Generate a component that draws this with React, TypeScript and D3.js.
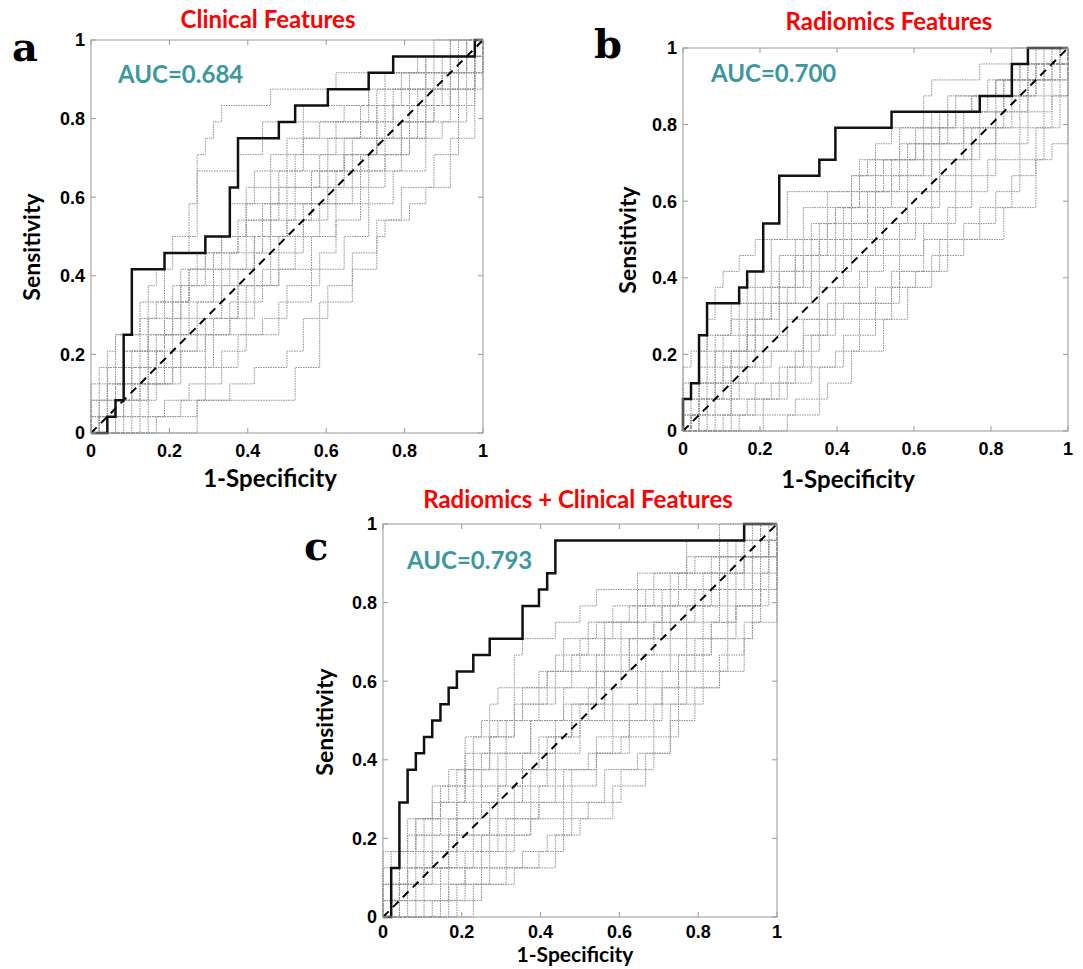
import React, { useEffect, useRef } from "react";
import * as d3 from "d3";

// counts: 48 negatives, 24 positives in the test set
const N_NEG = 48;
const N_POS = 24;
const TICKS = [0, 0.2, 0.4, 0.6, 0.8, 1];
const TICK_LABELS = ["0", "0.2", "0.4", "0.6", "0.8", "1"];

// main ROC curves (false positive count, true positive count), step after
const clinicalFP = [0, 2, 3, 4, 5, 9, 14, 17, 18, 23, 25, 29, 34, 37, 47, 48];
const clinicalTP = [0, 1, 2, 6, 10, 11, 12, 15, 18, 19, 20, 21, 22, 23, 24, 24];
const radiomicsFP = [0, 0, 1, 2, 3, 7, 8, 10, 12, 17, 19, 26, 37, 41, 43, 48];
const radiomicsTP = [0, 2, 3, 6, 8, 9, 10, 13, 16, 17, 19, 20, 21, 23, 24, 24];
const combinedFP = [0, 1, 2, 3, 4, 5, 6, 7, 8, 9, 11, 13, 17, 19, 20, 21, 44, 48];
const combinedTP = [0, 3, 7, 9, 10, 11, 12, 13, 14, 15, 16, 17, 19, 20, 21, 23, 24, 24];

// permutation curves (grey dotted), [fp, tp]
const clinicalPerm = [
  [[0,0],[0,3],[2,5],[3,6],[7,9],[8,10],[10,12],[13,17],[14,18],[15,19],[16,20],[22,21],[30,22],[42,24],[48,24]],
  [[0,0],[0,2],[1,4],[3,6],[6,8],[9,11],[12,14],[13,16],[18,17],[21,19],[26,20],[34,22],[40,23],[46,24],[48,24]],
  [[0,0],[1,1],[2,3],[4,5],[7,7],[10,9],[14,12],[17,14],[20,16],[24,18],[28,19],[35,21],[41,23],[45,24],[48,24]],
  [[0,0],[0,1],[3,3],[5,4],[8,6],[11,8],[15,10],[19,13],[22,15],[25,17],[30,19],[34,21],[39,22],[44,24],[48,24]],
  [[0,0],[2,1],[4,2],[6,4],[9,6],[13,8],[16,10],[20,12],[24,14],[27,16],[31,18],[36,20],[41,22],[47,23],[48,24]],
  [[0,0],[1,2],[5,3],[8,5],[10,7],[12,9],[17,11],[21,13],[23,15],[28,17],[32,18],[37,21],[43,22],[46,24],[48,24]],
  [[0,0],[3,1],[6,2],[8,3],[11,5],[14,7],[18,9],[22,11],[26,13],[29,15],[33,17],[38,19],[42,21],[45,23],[48,24]],
  [[0,0],[4,1],[7,3],[10,4],[14,6],[17,8],[21,10],[25,12],[28,14],[32,16],[36,18],[40,20],[44,22],[47,24],[48,24]],
  [[0,0],[6,1],[9,2],[12,3],[16,5],[19,6],[23,8],[27,10],[31,12],[34,14],[37,16],[41,19],[44,21],[47,23],[48,24]],
  [[0,0],[8,1],[13,2],[17,3],[20,4],[24,5],[26,7],[29,9],[32,11],[35,13],[38,15],[42,17],[45,20],[47,22],[48,24]],
  [[0,0],[13,2],[25,4],[28,8],[32,10],[35,12],[36,13],[39,14],[41,15],[44,18],[47,24],[48,24]],
  [[0,0],[1,1],[3,2],[5,3],[9,4],[15,6],[19,9],[23,12],[26,14],[30,16],[34,17],[39,20],[43,21],[46,23],[48,24]],
  [[0,0],[5,2],[7,4],[11,6],[15,7],[18,10],[20,12],[24,13],[27,15],[31,17],[35,19],[41,21],[44,23],[48,24]],
  [[0,0],[2,2],[3,4],[6,5],[9,7],[11,9],[13,11],[16,12],[19,14],[23,16],[26,18],[33,20],[38,22],[43,23],[48,24]],
  [[0,0],[0,1],[1,2],[2,4],[4,5],[6,7],[8,8],[11,10],[14,11],[18,13],[21,14],[24,16],[29,18],[33,19],[37,20],[40,21],[43,22],[45,23],[48,24]],
  [[0,0],[2,1],[3,3],[5,5],[7,6],[10,8],[12,10],[15,11],[18,12],[22,14],[25,15],[28,16],[31,17],[35,18],[38,19],[42,20],[45,22],[48,24]],
  [[0,0],[3,2],[4,3],[7,5],[9,6],[12,7],[16,9],[20,11],[22,13],[25,14],[29,16],[32,17],[35,20],[39,21],[42,22],[46,24],[48,24]],
  [[0,0],[7,1],[11,2],[14,4],[18,6],[21,7],[24,9],[28,11],[30,13],[33,15],[36,17],[39,18],[43,19],[46,21],[48,24]],
  [[0,0],[1,1],[4,2],[6,3],[10,5],[13,6],[17,7],[20,9],[23,10],[27,12],[30,14],[34,16],[38,18],[41,20],[44,21],[47,22],[48,24]],
  [[0,0],[0,2],[2,3],[4,4],[7,6],[9,8],[12,10],[16,12],[19,15],[22,17],[26,19],[31,20],[36,22],[41,23],[44,24],[48,24]],
];

const radiomicsPerm = [
  [[0,0],[0,4],[1,5],[3,7],[4,9],[5,10],[7,11],[9,12],[13,15],[21,16],[24,18],[26,19],[30,21],[31,22],[37,23],[41,24],[48,24]],
  [[0,0],[0,2],[2,4],[4,6],[6,8],[9,10],[11,12],[15,14],[18,15],[22,17],[27,19],[33,21],[38,22],[44,24],[48,24]],
  [[0,0],[1,1],[2,3],[5,5],[8,7],[11,9],[14,11],[18,13],[21,15],[25,17],[29,19],[34,21],[39,22],[43,23],[46,24],[48,24]],
  [[0,0],[0,1],[3,2],[6,4],[9,6],[12,8],[16,10],[19,12],[23,14],[26,16],[30,18],[35,20],[40,22],[45,23],[47,24],[48,24]],
  [[0,0],[2,1],[4,2],[7,3],[10,5],[13,7],[17,9],[20,11],[24,13],[28,15],[31,17],[36,19],[41,21],[44,22],[47,24],[48,24]],
  [[0,0],[1,2],[3,3],[5,4],[8,6],[10,8],[13,9],[16,11],[20,13],[23,15],[27,17],[32,19],[37,21],[42,23],[48,24]],
  [[0,0],[3,1],[6,2],[9,3],[12,4],[15,6],[18,8],[22,10],[25,12],[29,14],[32,16],[36,18],[39,20],[43,22],[46,23],[48,24]],
  [[0,0],[5,1],[8,2],[11,3],[14,5],[17,7],[20,8],[24,9],[27,11],[30,13],[34,15],[38,17],[42,19],[45,21],[47,23],[48,24]],
  [[0,0],[13,1],[17,4],[20,6],[24,8],[27,10],[32,12],[40,14],[44,17],[46,18],[48,24]],
  [[0,0],[7,1],[10,2],[12,3],[16,4],[19,5],[22,7],[26,9],[29,10],[33,12],[37,14],[41,16],[44,19],[46,21],[48,24]],
  [[0,0],[1,1],[2,2],[4,4],[6,5],[9,7],[12,9],[15,11],[17,13],[20,14],[24,16],[28,18],[31,20],[36,21],[40,22],[45,23],[48,24]],
  [[0,0],[0,3],[2,5],[3,6],[6,7],[8,9],[11,10],[14,12],[18,14],[21,16],[23,17],[27,18],[32,20],[38,21],[43,23],[48,24]],
  [[0,0],[4,1],[6,3],[8,4],[11,5],[15,7],[19,9],[23,11],[27,13],[31,15],[34,17],[37,19],[40,21],[44,23],[48,24]],
  [[0,0],[0,2],[1,3],[3,5],[5,6],[7,8],[10,9],[12,11],[16,13],[19,14],[22,16],[25,17],[29,18],[33,20],[36,21],[39,22],[42,23],[45,24],[48,24]],
  [[0,0],[2,2],[4,3],[6,5],[8,7],[11,8],[14,10],[17,12],[21,13],[24,15],[28,16],[31,18],[35,19],[39,20],[43,22],[46,23],[48,24]],
  [[0,0],[6,1],[9,2],[13,4],[16,6],[19,7],[22,8],[26,10],[30,12],[33,14],[36,16],[39,18],[43,20],[46,22],[48,24]],
  [[0,0],[1,1],[3,2],[5,3],[7,5],[10,6],[13,8],[17,10],[21,12],[25,14],[28,15],[32,17],[35,18],[39,19],[42,21],[45,22],[48,24]],
  [[0,0],[10,1],[14,2],[18,3],[21,5],[25,7],[28,9],[31,11],[35,13],[39,15],[42,17],[45,19],[47,21],[48,24]],
  [[0,0],[0,1],[2,3],[4,5],[7,6],[9,8],[12,10],[15,12],[19,14],[22,15],[26,17],[30,19],[34,20],[39,22],[44,23],[48,24]],
];

const combinedPerm = [
  [[0,0],[0,4],[3,5],[5,6],[6,7],[8,8],[9,9],[10,11],[12,12],[13,13],[14,14],[16,16],[17,17],[21,18],[24,19],[26,20],[31,21],[37,23],[41,24],[48,24]],
  [[0,0],[0,2],[2,4],[4,6],[7,8],[10,10],[13,12],[17,14],[20,15],[24,17],[28,19],[33,21],[38,22],[43,23],[46,24],[48,24]],
  [[0,0],[1,1],[3,3],[6,4],[9,6],[12,8],[15,10],[18,12],[22,14],[26,16],[29,18],[34,20],[39,21],[44,23],[48,24]],
  [[0,0],[0,1],[2,2],[5,3],[8,5],[11,7],[14,9],[19,11],[23,13],[27,15],[31,17],[35,19],[40,21],[45,22],[47,24],[48,24]],
  [[0,0],[2,1],[4,2],[7,3],[10,4],[13,6],[16,8],[20,10],[24,12],[28,14],[32,16],[37,18],[41,20],[44,22],[47,23],[48,24]],
  [[0,0],[1,2],[3,3],[5,4],[8,6],[12,7],[14,8],[17,10],[21,12],[25,14],[29,16],[33,18],[38,20],[42,22],[46,24],[48,24]],
  [[0,0],[4,1],[7,2],[10,3],[12,5],[15,6],[19,8],[22,9],[26,11],[30,13],[34,15],[38,17],[42,19],[45,21],[47,23],[48,24]],
  [[0,0],[6,1],[9,2],[13,3],[17,4],[20,5],[23,7],[27,9],[31,10],[35,12],[38,14],[41,16],[44,18],[46,20],[48,24]],
  [[0,0],[11,2],[16,3],[21,5],[24,6],[28,8],[32,10],[35,13],[37,14],[41,15],[44,17],[45,18],[48,24]],
  [[0,0],[9,1],[12,2],[15,3],[19,4],[22,6],[25,7],[29,9],[33,11],[36,13],[39,15],[42,17],[45,19],[47,22],[48,24]],
  [[0,0],[3,1],[5,3],[8,4],[11,5],[14,7],[18,9],[21,11],[24,13],[27,15],[30,17],[34,19],[39,20],[43,22],[48,24]],
  [[0,0],[1,1],[2,3],[4,5],[6,6],[9,8],[12,10],[15,12],[19,14],[23,15],[27,17],[31,19],[36,20],[41,22],[45,23],[48,24]],
  [[0,0],[5,1],[8,3],[11,4],[14,5],[18,7],[21,9],[25,10],[28,12],[32,14],[36,16],[40,18],[43,20],[46,22],[48,24]],
  [[0,0],[0,3],[1,4],[3,6],[6,8],[8,9],[11,11],[14,12],[17,13],[21,16],[25,18],[30,19],[35,21],[40,22],[44,23],[48,24]],
  [[0,0],[0,1],[1,2],[3,4],[5,5],[7,7],[10,9],[13,11],[16,13],[20,15],[23,16],[27,18],[32,20],[37,22],[42,23],[46,24],[48,24]],
  [[0,0],[2,2],[4,3],[6,5],[9,7],[11,9],[14,10],[18,12],[22,13],[26,15],[30,17],[33,18],[37,19],[41,21],[44,22],[48,24]],
  [[0,0],[7,1],[10,3],[13,4],[16,6],[19,7],[23,9],[26,10],[30,12],[34,14],[37,16],[40,18],[43,19],[46,21],[48,24]],
  [[0,0],[1,1],[3,2],[6,3],[9,5],[13,7],[17,9],[20,11],[23,12],[27,13],[31,15],[35,17],[39,19],[42,20],[45,22],[47,23],[48,24]],
  [[0,0],[8,2],[12,3],[15,5],[18,6],[22,8],[26,10],[29,11],[33,13],[36,15],[39,17],[43,19],[46,20],[48,24]],
  [[0,0],[0,2],[1,3],[2,4],[4,6],[7,7],[10,9],[13,11],[16,14],[19,15],[22,17],[26,18],[31,20],[36,21],[41,23],[45,24],[48,24]],
];

const panels = [
  {
    letter: "a", title: "Clinical Features", auc: "AUC=0.684",
    fp: clinicalFP, tp: clinicalTP, perm: clinicalPerm,
    box: { x0: 91, x1: 483, y0: 433, y1: 40 },
    letterPos: [12, 61], titlePos: [268, 28], aucPos: [118, 83],
    xLabelPos: [270, 487], yLabelPos: [32, 247], xLabelSize: 24, tickGap: 24,
  },
  {
    letter: "b", title: "Radiomics Features", auc: "AUC=0.700",
    fp: radiomicsFP, tp: radiomicsTP, perm: radiomicsPerm,
    box: { x0: 683, x1: 1068, y0: 431, y1: 48 },
    letterPos: [594, 58], titlePos: [889, 30], aucPos: [711, 82],
    xLabelPos: [848, 488], yLabelPos: [628, 240], xLabelSize: 24, tickGap: 24,
  },
  {
    letter: "c", title: "Radiomics + Clinical Features", auc: "AUC=0.793",
    fp: combinedFP, tp: combinedTP, perm: combinedPerm,
    box: { x0: 383, x1: 777, y0: 917, y1: 524 },
    letterPos: [304, 560], titlePos: [578, 508], aucPos: [407, 569],
    xLabelPos: [575, 962], yLabelPos: [325, 722], xLabelSize: 21, tickGap: 21,
  },
];

const LABEL_FONT = "Lato, 'Open Sans', sans-serif";
const TICK_FONT = "'Liberation Sans', Arial, sans-serif";

const App = () => {
  const ref = useRef<SVGSVGElement | null>(null);

  useEffect(() => {
    document.body.style.margin = "0";
    const svg = d3.select(ref.current);
    svg.selectAll("*").remove();

    panels.forEach((p) => {
      const x = d3.scaleLinear().domain([0, 1]).range([p.box.x0, p.box.x1]);
      const y = d3.scaleLinear().domain([0, 1]).range([p.box.y0, p.box.y1]);
      const g = svg.append("g");

      const step = d3
        .line<number[]>()
        .x((d) => x(d[0] / N_NEG))
        .y((d) => y(d[1] / N_POS))
        .curve(d3.curveStepAfter);

      // grey permutation curves
      g.selectAll("path.perm")
        .data(p.perm)
        .enter()
        .append("path")
        .attr("class", "perm")
        .attr("d", (d) => step(d as number[][]))
        .attr("fill", "none")
        .attr("stroke", "#8f8f8f")
        .attr("stroke-width", 1)
        .attr("stroke-dasharray", "1.5,1");

      // chance line
      g.append("line")
        .attr("x1", x(0)).attr("y1", y(0))
        .attr("x2", x(1)).attr("y2", y(1))
        .attr("stroke", "#000")
        .attr("stroke-width", 2)
        .attr("stroke-dasharray", "8,6");

      // main curve
      const pts = p.fp.map((v, i) => [v, p.tp[i]]);
      g.append("path")
        .attr("d", step(pts))
        .attr("fill", "none")
        .attr("stroke", "#111")
        .attr("stroke-width", 2.5);

      // axes box + ticks (both sides, inward)
      g.append("rect")
        .attr("x", x(0)).attr("y", y(1))
        .attr("width", x(1) - x(0)).attr("height", y(0) - y(1))
        .attr("fill", "none")
        .attr("stroke", "#999")
        .attr("stroke-width", 1);

      const tl = 5;
      TICKS.forEach((t, i) => {
        g.append("line").attr("x1", x(t)).attr("x2", x(t)).attr("y1", y(0)).attr("y2", y(0) - tl).attr("stroke", "#999");
        g.append("line").attr("x1", x(t)).attr("x2", x(t)).attr("y1", y(1)).attr("y2", y(1) + tl).attr("stroke", "#999");
        g.append("line").attr("y1", y(t)).attr("y2", y(t)).attr("x1", x(0)).attr("x2", x(0) + tl).attr("stroke", "#999");
        g.append("line").attr("y1", y(t)).attr("y2", y(t)).attr("x1", x(1)).attr("x2", x(1) - tl).attr("stroke", "#999");

        g.append("text")
          .attr("x", x(t)).attr("y", y(0) + p.tickGap)
          .attr("text-anchor", "middle")
          .style("font-family", TICK_FONT).style("font-weight", "bold").style("font-size", "18px")
          .text(TICK_LABELS[i]);
        g.append("text")
          .attr("x", x(0) - 6).attr("y", y(t)).attr("dy", "0.36em")
          .attr("text-anchor", "end")
          .style("font-family", TICK_FONT).style("font-weight", "bold").style("font-size", "18px")
          .text(TICK_LABELS[i]);
      });

      g.append("text")
        .attr("x", p.xLabelPos[0]).attr("y", p.xLabelPos[1])
        .attr("text-anchor", "middle")
        .style("font-family", LABEL_FONT).style("font-weight", "bold").style("font-size", `${p.xLabelSize}px`)
        .text("1-Specificity");
      g.append("text")
        .attr("transform", `translate(${p.yLabelPos[0]},${p.yLabelPos[1]}) rotate(-90)`)
        .attr("text-anchor", "middle").attr("dy", "0.36em")
        .style("font-family", LABEL_FONT).style("font-weight", "bold").style("font-size", "23px")
        .text("Sensitivity");

      g.append("text")
        .attr("x", p.titlePos[0]).attr("y", p.titlePos[1])
        .attr("text-anchor", "middle")
        .attr("fill", "#ff0000")
        .style("font-family", LABEL_FONT).style("font-weight", "bold").style("font-size", "24px")
        .text(p.title);

      g.append("text")
        .attr("x", p.aucPos[0]).attr("y", p.aucPos[1])
        .attr("fill", "#3e979d")
        .style("font-family", LABEL_FONT).style("font-weight", "bold").style("font-size", "24px")
        .text(p.auc);

      g.append("text")
        .attr("x", p.letterPos[0]).attr("y", p.letterPos[1])
        .style("font-family", "'DejaVu Serif', serif").style("font-weight", "bold").style("font-size", "40px")
        .text(p.letter);
    });
  }, []);

  return <svg ref={ref} width={1083} height={969} style={{ display: "block", background: "#fff" }} />;
};

export default App;
